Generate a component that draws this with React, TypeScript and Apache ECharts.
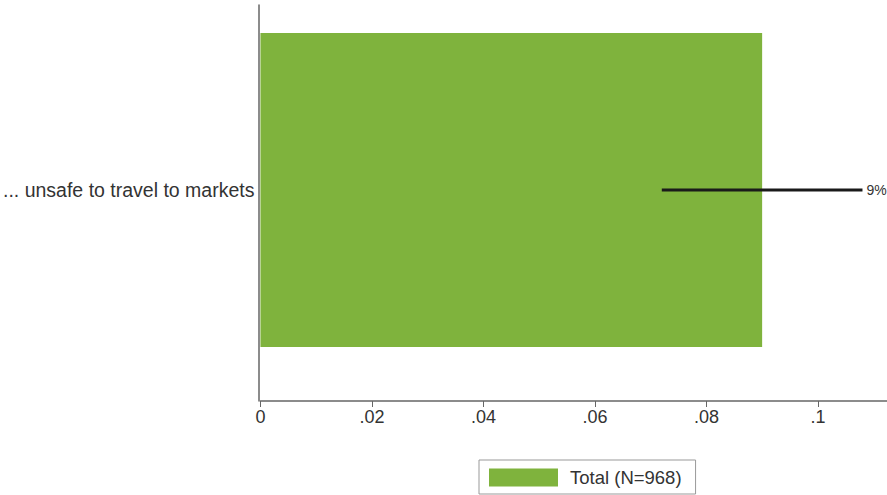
import React, { useEffect, useRef } from "react";
import * as echarts from "echarts";

const categories = ["... unsafe to travel to markets"];
const seriesName = "Total (N=968)";
const values = [0.09];
const ciLow = [0.072];
const ciHigh = [0.108];
const valueLabels = ["9%"];
const xTicks = [0, 0.02, 0.04, 0.06, 0.08, 0.1];

const fmt = (v: number) => {
  if (v === 0) return "0";
  const s = String(Math.round(v * 1000) / 1000);
  return s.startsWith("0") ? s.slice(1) : s;
};

export default function App() {
  const ref = useRef<HTMLDivElement>(null);
  useEffect(() => {
    if (!ref.current) return;
    document.body.style.margin = "0";
    const chart = echarts.init(ref.current, undefined, { renderer: "svg" });
    const font = "Liberation Sans, Arial, sans-serif";
    const ciData: any[] = [];
    categories.forEach((c, i) => {
      ciData.push({ value: [ciLow[i], c], label: { show: false } });
      ciData.push({
        value: [ciHigh[i], c],
        label: { show: true, formatter: valueLabels[i] },
      });
    });
    chart.setOption({
      animation: false,
      grid: [
        { left: 259, right: 0, top: 0, height: 380, containLabel: false },
        { left: 259, right: 0, top: 5, height: 396, containLabel: false },
      ],
      xAxis: [
        {
          type: "value",
          gridIndex: 0,
          min: 0,
          max: 0.1124,
          offset: 21,
          axisLine: { show: true, lineStyle: { color: "#666", width: 1.5 } },
          axisTick: {
            show: true,
            length: 6,
            customValues: xTicks,
            lineStyle: { color: "#666" },
          },
          splitLine: { show: false },
          axisLabel: {
            customValues: xTicks,
            formatter: (v: number) => fmt(v),
            color: "#333",
            fontSize: 18,
            fontFamily: font,
            margin: 7,
          },
        },
        { type: "value", gridIndex: 1, show: false, min: 0, max: 1 },
      ],
      yAxis: [
        {
          type: "category",
          gridIndex: 0,
          data: categories,
          axisLine: { show: false },
          axisTick: { show: false },
          axisLabel: {
            color: "#333",
            fontSize: 19.5,
            fontFamily: font,
            margin: 6,
          },
        },
        {
          type: "value",
          gridIndex: 1,
          min: 0,
          max: 1,
          axisLine: { show: true, lineStyle: { color: "#666", width: 1.5 } },
          axisTick: { show: false },
          axisLabel: { show: false },
          splitLine: { show: false },
        },
      ],
      legend: {
        data: [seriesName],
        left: 479,
        top: 460,
        orient: "horizontal",
        itemWidth: 69,
        itemHeight: 18,
        borderColor: "#999",
        borderWidth: 1,
        borderRadius: 0,
        padding: [8, 14, 7, 10],
        icon: "rect",
        textStyle: {
          color: "#333",
          fontSize: 18.5,
          fontFamily: font,
          padding: [0, 0, 0, 7],
        },
      },
      series: [
        {
          name: seriesName,
          type: "bar",
          xAxisIndex: 0,
          yAxisIndex: 0,
          data: values,
          barWidth: 314,
          itemStyle: { color: "#7fb33d" },
        },
        {
          name: "ci",
          type: "line",
          xAxisIndex: 0,
          yAxisIndex: 0,
          data: ciData,
          symbol: "circle",
          symbolSize: 0,
          showSymbol: true,
          itemStyle: { color: "#1a1a1a" },
          lineStyle: { color: "#1a1a1a", width: 3 },
          label: {
            position: "right",
            distance: 4,
            color: "#333",
            fontSize: 14,
            fontFamily: font,
          },
          silent: true,
        },
      ],
    });
    return () => chart.dispose();
  }, []);
  return <div ref={ref} style={{ width: 887, height: 495 }} />;
}
